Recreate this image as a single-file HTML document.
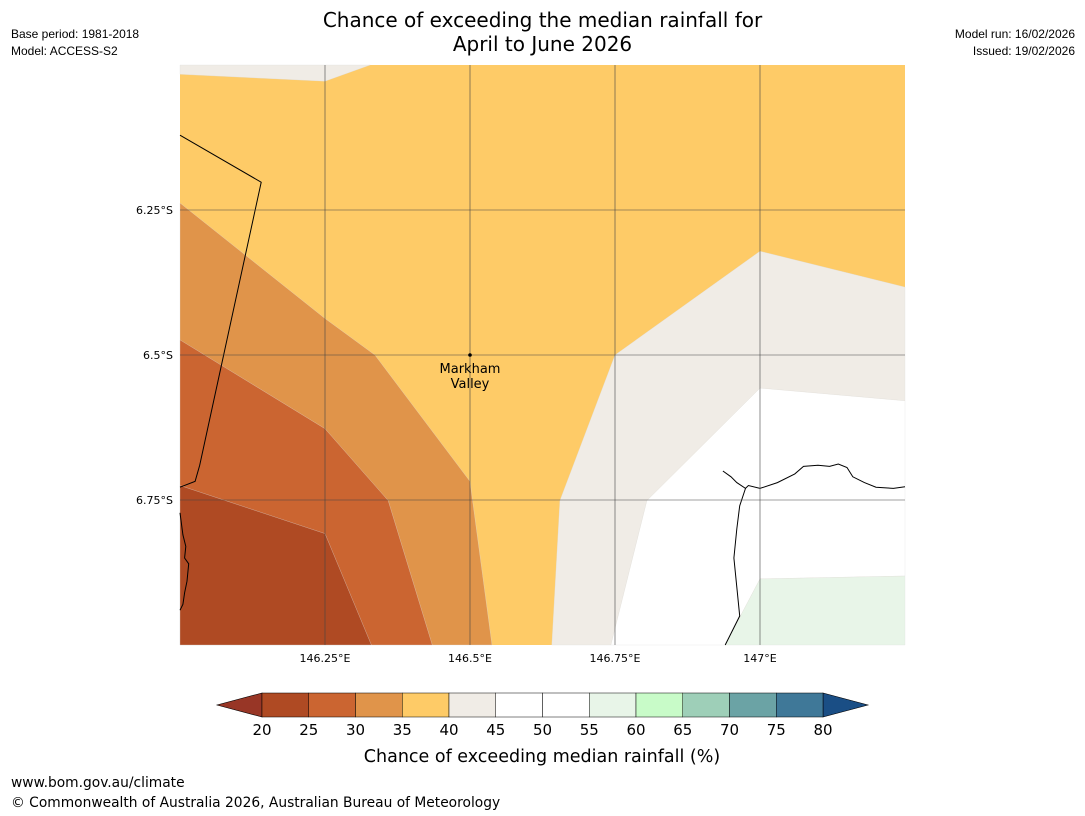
<!DOCTYPE html>
<html><head><meta charset="utf-8">
<style>
body{margin:0;background:#fff;font-family:"Liberation Sans","DejaVu Sans",sans-serif;}
#wrap{position:relative;width:1085px;height:816px;overflow:hidden;}
.t{position:absolute;font-size:12px;color:#000;white-space:nowrap;}
</style></head><body>
<div id="wrap">
<div class="t" style="left:0;width:1085px;top:8px;text-align:center;font-size:20px;line-height:24px;font-family:'DejaVu Sans',sans-serif;">Chance of exceeding the median rainfall for<br>April to June 2026</div>
<div class="t" style="left:11px;top:27px;font-family:'Liberation Sans',sans-serif;font-size:12px;">Base period: 1981-2018</div>
<div class="t" style="left:11px;top:44px;font-family:'Liberation Sans',sans-serif;font-size:12px;">Model: ACCESS-S2</div>
<div class="t" style="right:10px;top:27px;font-family:'Liberation Sans',sans-serif;font-size:12px;">Model run: 16/02/2026</div>
<div class="t" style="right:10px;top:44px;font-family:'Liberation Sans',sans-serif;font-size:12px;">Issued: 19/02/2026</div>
<div class="t" style="left:11px;top:775px;font-size:13.8px;font-family:'DejaVu Sans',sans-serif;">www.bom.gov.au/climate</div>
<div class="t" style="left:11px;top:795px;font-size:13.8px;font-family:'DejaVu Sans',sans-serif;">© Commonwealth of Australia 2026, Australian Bureau of Meteorology</div>
<svg id="svg" width="1085" height="816" style="position:absolute;left:0;top:0"></svg>
</div>
<script>
// map extent
const lonMin=146.0, lonMax=147.25, latMin=6.0, latMax=7.0; // lat in degrees south
const xTicks=[146.25,146.5,146.75,147.0];
const xTickLabels=["146.25°E","146.5°E","146.75°E","147°E"];
const yTicks=[6.25,6.5,6.75];
const yTickLabels=["6.25°S","6.5°S","6.75°S"];
// contour polygons [lon, latS]
const bandColors=["#983626","#AF4A23","#CB6531","#E0944A","#FECB67","#F0ECE6","#FFFFFF","#FFFFFF","#E8F5E8","#C8FBC8","#9ECFB8","#6BA3A5","#3F7898","#1A4E85"];
const cbTicks=[20,25,30,35,40,45,50,55,60,65,70,75,80];
const regionBeigeTL=[[146,6],[146.328,6],[146.25,6.028],[146,6.016]];
const regionBeigeR=[[147.25,6.383],[147,6.321],[146.75,6.5],[146.655,6.751],[146.641,7],[146.743,7],[146.805,6.751],[147,6.557],[147.25,6.579]];
const regionWhite=[[147.25,6.579],[147,6.557],[146.805,6.751],[146.743,7],[146.94,7],[147,6.886],[147.25,6.881]];
const regionGreen=[[146.94,7],[147,6.886],[147.25,6.881],[147.25,7]];
const region30=[[146,6.238],[146.25,6.437],[146.336,6.5],[146.5,6.718],[146.538,7],[146,7]];
const region25=[[146,6.474],[146.25,6.627],[146.359,6.751],[146.435,7],[146,7]];
const region20=[[146,6.725],[146.25,6.808],[146.33,7],[146,7]];
const border=[[146,6.121],[146.14,6.202],[146.034,6.69],[146.026,6.718],[146,6.728]];
const coastL=[[146,6.772],[146.005,6.81],[146.01,6.83],[146.008,6.85],[146.015,6.86],[146.012,6.89],[146.008,6.91],[146.005,6.93],[146,6.94]];
const coastR=[[146.936,6.7],[146.95,6.71],[146.96,6.72],[146.975,6.73],[146.98,6.725],[147,6.73],[147.03,6.72],[147.06,6.705],[147.075,6.692],[147.1,6.69],[147.12,6.692],[147.135,6.688],[147.15,6.694],[147.16,6.71],[147.18,6.72],[147.2,6.728],[147.23,6.73],[147.25,6.727]];
const coastR2=[[146.975,6.73],[146.965,6.76],[146.96,6.8],[146.955,6.85],[146.96,6.9],[146.965,6.95],[146.955,6.97],[146.94,7]];
const markLon=146.5, markLat=6.5;

const L=180,R=905,T=65,B=645;
const sx=v=>L+(v-lonMin)/(lonMax-lonMin)*(R-L);
const sy=v=>T+(v-latMin)/(latMax-latMin)*(B-T);
const svg=document.getElementById('svg');
const NS='http://www.w3.org/2000/svg';
function mk(tag,attrs){const e=document.createElementNS(NS,tag);for(const k in attrs)e.setAttribute(k,attrs[k]);svg.appendChild(e);return e;}
const pts=a=>a.map(p=>sx(p[0]).toFixed(1)+','+sy(p[1]).toFixed(1)).join(' ');

let bg=mk('rect',{x:L,y:T,width:R-L,height:B-T,fill:bandColors[4]});


const regs=[[regionBeigeTL,5,'region-40-45-north'],[regionBeigeR,5,'region-40-45-east'],[regionWhite,6,'region-45-55'],[regionGreen,8,'region-55-60'],[region30,3,'region-30-35'],[region25,2,'region-25-30'],[region20,1,'region-20-25']];
regs.forEach(r=>{const e=mk('polygon',{points:pts(r[0]),fill:bandColors[r[1]],stroke:'#ddd','stroke-width':0.3});

});
[[border,'province-border'],[coastL,'coastline-west'],[coastR,'coastline-east'],[coastR2,'coastline-east-south']].forEach(c=>{
const e=mk('polyline',{points:pts(c[0]),fill:'none',stroke:'#000','stroke-width':1});

});
xTicks.forEach((v,i)=>{const g=mk('line',{x1:sx(v),x2:sx(v),y1:T,y2:B,stroke:'#444','stroke-width':0.6});


const t=mk('text',{x:sx(v),y:B+17,'text-anchor':'middle','font-size':11,'font-family':'DejaVu Sans,sans-serif'});t.textContent=xTickLabels[i];

});
yTicks.forEach((v,i)=>{const g=mk('line',{x1:L,x2:R,y1:sy(v),y2:sy(v),stroke:'#444','stroke-width':0.6});


const t=mk('text',{x:L-7,y:sy(v)+4,'text-anchor':'end','font-size':11,'font-family':'DejaVu Sans,sans-serif'});t.textContent=yTickLabels[i];

});
let m=mk('circle',{cx:sx(markLon),cy:sy(markLat),r:1.8,fill:'#000'});


['Markham','Valley'].forEach((s,i)=>{const t=mk('text',{x:sx(markLon),y:sy(markLat)+18+i*15,'text-anchor':'middle','font-size':13,'font-family':'DejaVu Sans,sans-serif'});t.textContent=s;

});

// colorbar
const cL=262,cR=823,cT=693,cB=717;
const cx=v=>cL+(v-cbTicks[0])/(cbTicks[cbTicks.length-1]-cbTicks[0])*(cR-cL);
let lt=mk('polygon',{points:`${cL},${cT} ${cL},${cB} 217,${(cT+cB)/2}`,fill:bandColors[0],stroke:'#000','stroke-width':0.6});


let rt=mk('polygon',{points:`${cR},${cT} ${cR},${cB} 868,${(cT+cB)/2}`,fill:bandColors[13],stroke:'#000','stroke-width':0.6});


for(let i=0;i<cbTicks.length-1;i++){
const e=mk('rect',{x:cx(cbTicks[i]),y:cT,width:cx(cbTicks[i+1])-cx(cbTicks[i]),height:cB-cT,fill:bandColors[i+1],stroke:'#000','stroke-width':0.5});

}
cbTicks.forEach(v=>{const t=mk('text',{x:cx(v),y:735,'text-anchor':'middle','font-size':15,'font-family':'DejaVu Sans,sans-serif'});t.textContent=v;

});
let ct=mk('text',{x:(355+729)/2,y:762,'text-anchor':'middle','font-size':17.5,'font-family':'DejaVu Sans,sans-serif'});ct.textContent='Chance of exceeding median rainfall (%)';


</script>
</body></html>
